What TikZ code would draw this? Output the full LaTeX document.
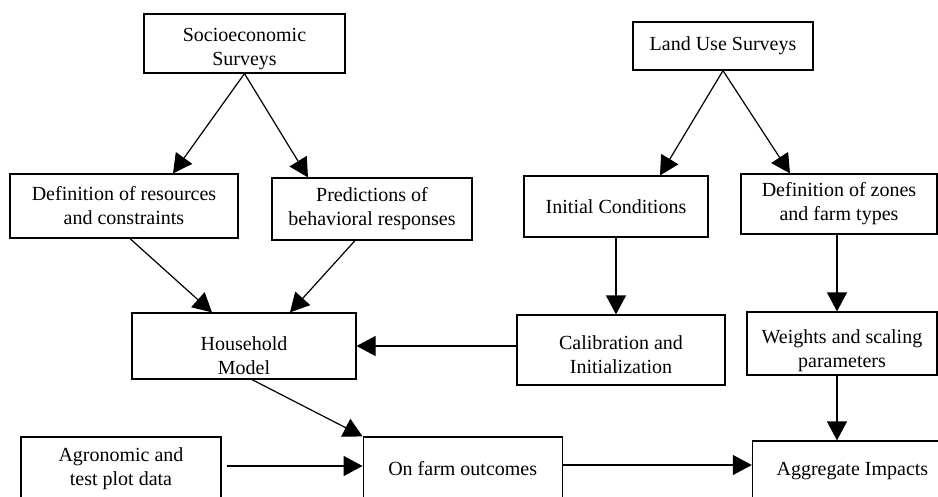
\documentclass[tikz,border=0pt]{standalone}
\usepackage{fontspec}
\setmainfont{Liberation Serif}
\usepackage{tikz}
\usetikzlibrary{calc}
\usetikzlibrary{positioning, arrows.meta}

% pushes a two-line label down inside its box
\newcommand{\pushdown}[1]{\rule{0pt}{#1}}

\begin{document}
\begin{tikzpicture}[
    x=1pt, y=-1pt,
    line width=1.2pt,
    box/.style={rectangle, draw, inner sep=0pt, align=center, font=\fontsize{20}{24}\selectfont},
    arrow/.style={-{Triangle[length=19pt, width=20pt]}}
]
    \useasboundingbox (0,0) rectangle (938,496);
    \clip (0,0) rectangle (938,496);

    % Survey nodes
    \node (socio)   [box, minimum width=201pt, minimum height=59pt] at (244.5,43.5) {\pushdown{24pt}Socioeconomic\\Surveys};
    \node (landuse) [box, minimum width=180pt, minimum height=48pt] at (723,46) {Land Use Surveys};

    % Second row
    \node (defres)   [box, minimum width=228pt, minimum height=64pt] at (124,206) {Definition of resources\\and constraints};
    \node (pred)     [box, minimum width=200pt, minimum height=62pt] at (372,209) {Predictions of\\behavioral responses};
    \node (initc)    [box, minimum width=184pt, minimum height=61pt] at (616,206.5) {Initial Conditions};
    \node (defzones) [box, minimum width=196pt, minimum height=60pt] at (839,204) {Definition of zones\\and farm types};

    % Third row
    \node (household) [box, minimum width=224pt, minimum height=66pt] at (244,346) {\pushdown{34pt}Household\\Model};
    \node (calib)     [box, minimum width=208pt, minimum height=70pt] at (621,350) {\pushdown{24pt}Calibration and\\Initialization};
    \node (weights)   [box, minimum width=190pt, minimum height=63pt] at (842,343.5) {\pushdown{28pt}Weights and scaling\\parameters};

    % Bottom row (cut by the page edge)
    \node (agro)   [box, minimum width=200pt, minimum height=64pt] at (121,469) {Agronomic and\\test plot data};
    \node (onfarm) [box, minimum width=199pt, minimum height=64pt, right=141pt of agro] {On farm outcomes};
    \node (aggr)   [box, minimum width=200pt, minimum height=60pt, right=189pt of onfarm, yshift=-2pt] {Aggregate Impacts};

    % Survey outputs
    \draw [arrow] (socio.south) -- ([xshift=49pt]defres.north);
    \draw [arrow] (socio.south) -- ([xshift=-64pt]pred.north);
    \draw [arrow] (landuse.south) -- ([xshift=44pt]initc.north);
    \draw [arrow] (landuse.south) -- ([xshift=-49pt]defzones.north);

    % Into the household model
    \draw [arrow] ([xshift=6pt]defres.south) -- ([xshift=-32pt]household.north);
    \draw [arrow] ([xshift=-17pt]pred.south) -- ([xshift=46pt]household.north);
    \draw [arrow] (calib.west |- household.east) -- (household.east);

    % Vertical chains on the right
    \draw [arrow] (initc.south) -- (initc.south |- calib.north);
    \draw [arrow] ([xshift=-2pt]defzones.south) -- ([xshift=-2pt]defzones.south |- weights.north);
    \draw [arrow] ([xshift=-5pt]weights.south) -- ([xshift=-5pt]weights.south |- aggr.north);

    % Outcomes
    \draw [arrow] ([xshift=8pt]household.south) -- (onfarm.north west);
    \draw [arrow, shorten <=5pt] ([yshift=3pt]agro.east) -- ([yshift=3pt]agro.east -| onfarm.west);
    \draw [arrow] ([yshift=4pt]onfarm.east) -- ([yshift=4pt]onfarm.east -| aggr.west);

\end{tikzpicture}
\end{document}
